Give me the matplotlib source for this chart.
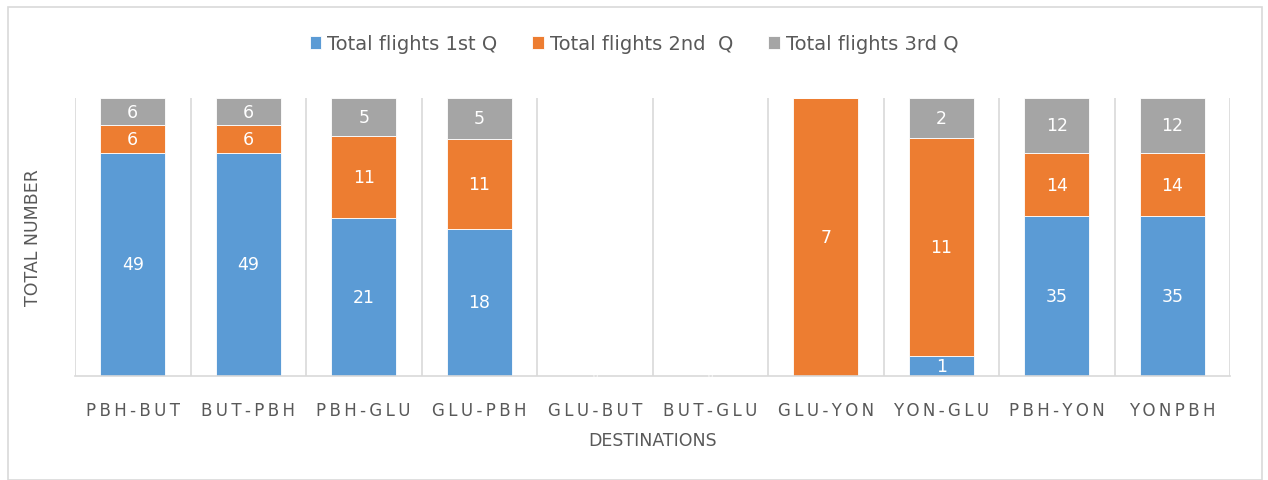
import matplotlib
matplotlib.use("Agg")
import matplotlib.pyplot as plt
import numpy as np
from matplotlib.patches import Rectangle

categories = ["PBH-BUT", "BUT-PBH", "PBH-GLU", "GLU-PBH", "GLU-BUT",
              "BUT-GLU", "GLU-YON", "YON-GLU", "PBH-YON", "YONPBH"]
q1 = [49, 49, 21, 18, 0, 0, 0, 1, 35, 35]
q2 = [6, 6, 11, 11, 0, 0, 7, 11, 14, 14]
q3 = [6, 6, 5, 5, 0, 0, 0, 2, 12, 12]
series_names = ["Total flights 1st Q", "Total flights 2nd  Q", "Total flights 3rd Q"]
colors = ["#5B9BD5", "#ED7D31", "#A5A5A5"]

plt.rcParams['font.family'] = ['DejaVu Sans']

fig = plt.figure(figsize=(12.68, 4.81), dpi=100)
ax = fig.add_axes([75/1268, 1-377/481, (1230-75)/1268, (377-99)/481])

data = np.array([q1, q2, q3], dtype=float)
totals = data.sum(axis=0)
safe = np.where(totals == 0, 1, totals)
frac = data / safe

x = np.arange(len(categories))
bottom = np.zeros(len(categories))
for i in range(3):
    ax.bar(x, frac[i], 0.56, bottom=bottom, color=colors[i],
           label=series_names[i], zorder=2, edgecolor='white', linewidth=0.6)
    for j in range(len(categories)):
        if data[i, j] > 0:
            ax.text(x[j], bottom[j] + frac[i, j]/2, f"{int(data[i, j])}",
                    ha='center', va='center', color='white', fontsize=12.5, zorder=4)
    bottom += frac[i]

for j in range(len(categories)):
    if totals[j] == 0:
        ax.text(x[j], 0, "0", ha='center', va='center', color='white',
                fontsize=6, zorder=5)

ax.set_xlim(-0.5, len(categories) - 0.5)
ax.set_ylim(0, 1)
for b in np.arange(-0.5, len(categories), 1.0):
    ax.axvline(b, color='#D9D9D9', linewidth=1.2, zorder=1)

for s in ['top', 'right', 'left']:
    ax.spines[s].set_visible(False)
ax.spines['bottom'].set_color('#D9D9D9')
ax.spines['bottom'].set_linewidth(1.2)

ax.set_yticks([])
ax.set_xticks(x)
ax.set_xticklabels(["\u2009".join(c) for c in categories], fontsize=12,
                   color='#595959')
ax.tick_params(axis='x', length=0, pad=18)
ax.set_xlabel("DESTINATIONS", fontsize=12.5, color='#595959', labelpad=9)
ax.set_ylabel("TOTAL NUMBER", fontsize=12.5, color='#595959', labelpad=24)

leg = fig.legend(loc='center', bbox_to_anchor=(0.5, 1-45/481), ncol=3,
                 frameon=False, fontsize=14, handlelength=0.6,
                 handleheight=0.6, handletextpad=0.3, columnspacing=1.8)
for t in leg.get_texts():
    t.set_color('#595959')

fig.patches.append(Rectangle((8/1268, 0), (1262-8)/1268, 1-8/481,
                             transform=fig.transFigure, fill=False,
                             edgecolor='#D9D9D9', linewidth=1.2))

fig.savefig("out.png", dpi=100)
